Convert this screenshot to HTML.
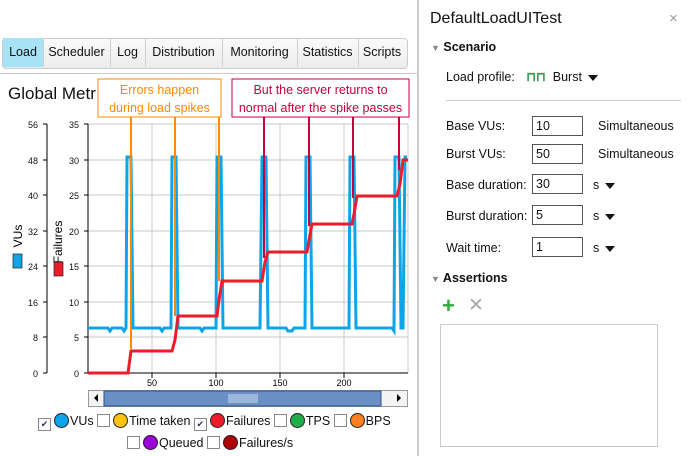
<!DOCTYPE html><html><head><style>
body{margin:0;width:688px;height:456px;background:#fff;font-family:"Liberation Sans",sans-serif;font-size:12px;color:#111;position:relative;overflow:hidden}
.a{position:absolute}
.tab{position:absolute;top:38px;height:29px;line-height:29px;text-align:center;border-right:1px solid #d0d0d0;font-size:12.5px}
.inp{position:absolute;left:532px;width:46px;height:18px;border:1px solid #555;line-height:18px;padding-left:3px;font-size:12.5px}
.lbl{position:absolute;left:446px;font-size:12.5px}
.tri{display:inline-block;width:0;height:0;border-left:5px solid transparent;border-right:5px solid transparent;border-top:6px solid #111;margin-left:6px;vertical-align:middle}
.cb{display:inline-block;width:11px;height:11px;border:1px solid #888;vertical-align:-2px;font-size:9px;line-height:11px;text-align:center;color:#335}
.dot{display:inline-block;width:13px;height:13px;border-radius:50%;border:1px solid #222;vertical-align:-3px;margin-left:3px;margin-right:1px}
</style></head><body>
<div class="a" style="left:2px;top:38px;width:404px;height:29px;border:1px solid #ccc;border-radius:4px;background:linear-gradient(#fafafa,#ececec)"></div>
<div class="tab" style="left:3px;width:40px;background:#a7e2f7">Load</div>
<div class="tab" style="left:43px;width:67px">Scheduler</div>
<div class="tab" style="left:110px;width:35px">Log</div>
<div class="tab" style="left:145px;width:77px">Distribution</div>
<div class="tab" style="left:222px;width:75px">Monitoring</div>
<div class="tab" style="left:297px;width:61px">Statistics</div>
<div class="tab" style="left:358px;width:48px;border-right:none">Scripts</div>
<div class="a" style="left:0;top:73px;width:417px;height:1px;background:#ccc"></div>
<div class="a" style="left:417px;top:0;width:2px;height:456px;background:#ccc"></div>
<div class="a" style="left:8px;top:84px;font-size:17px">Global Metr</div>
<svg class="a" style="left:0;top:0" width="417" height="456">
<g font-size="9" text-anchor="end" fill="#111">
<line x1="47" y1="124" x2="47" y2="373" stroke="#000"/>
<g stroke="#000"><line x1="43" y1="124" x2="47" y2="124"/><line x1="43" y1="160" x2="47" y2="160"/><line x1="43" y1="195" x2="47" y2="195"/><line x1="43" y1="231" x2="47" y2="231"/><line x1="43" y1="266" x2="47" y2="266"/><line x1="43" y1="302" x2="47" y2="302"/><line x1="43" y1="337" x2="47" y2="337"/><line x1="43" y1="373" x2="47" y2="373"/>
<line x1="84" y1="124" x2="88" y2="124"/><line x1="84" y1="160" x2="88" y2="160"/><line x1="84" y1="195" x2="88" y2="195"/><line x1="84" y1="231" x2="88" y2="231"/><line x1="84" y1="266" x2="88" y2="266"/><line x1="84" y1="302" x2="88" y2="302"/><line x1="84" y1="337" x2="88" y2="337"/><line x1="84" y1="373" x2="88" y2="373"/></g>
<text x="38" y="128">56</text><text x="38" y="164">48</text><text x="38" y="199">40</text><text x="38" y="235">32</text><text x="38" y="270">24</text><text x="38" y="306">16</text><text x="38" y="341">8</text><text x="38" y="377">0</text>
<text x="79" y="128">35</text><text x="79" y="164">30</text><text x="79" y="199">25</text><text x="79" y="235">20</text><text x="79" y="270">15</text><text x="79" y="306">10</text><text x="79" y="341">5</text><text x="79" y="377">0</text>
</g>
<text transform="translate(22,236) rotate(-90)" font-size="12" text-anchor="middle">VUs</text>
<rect x="13" y="254" width="9" height="14" fill="#0ea5e8" stroke="#222" stroke-width="0.7"/>
<text transform="translate(62,242) rotate(-90)" font-size="12" text-anchor="middle">Failures</text>
<rect x="54" y="262" width="9" height="14" fill="#ee1c2a" stroke="#222" stroke-width="0.7"/>
<g stroke="#c8c8c8" stroke-width="1">
<line x1="88" y1="160" x2="408" y2="160"/><line x1="88" y1="195" x2="408" y2="195"/><line x1="88" y1="231" x2="408" y2="231"/><line x1="88" y1="266" x2="408" y2="266"/><line x1="88" y1="302" x2="408" y2="302"/><line x1="88" y1="337" x2="408" y2="337"/><line x1="88" y1="124" x2="408" y2="124"/>
<line x1="152" y1="124" x2="152" y2="373"/><line x1="216" y1="124" x2="216" y2="373"/><line x1="280" y1="124" x2="280" y2="373"/><line x1="344" y1="124" x2="344" y2="373"/><line x1="408" y1="124" x2="408" y2="373"/>
</g>
<line x1="88" y1="124" x2="88" y2="373" stroke="#000"/>
<line x1="88" y1="373" x2="408" y2="373" stroke="#000"/>
<g stroke="#000"><line x1="152" y1="373" x2="152" y2="378"/><line x1="216" y1="373" x2="216" y2="378"/><line x1="280" y1="373" x2="280" y2="378"/><line x1="344" y1="373" x2="344" y2="378"/></g>
<g font-size="9" text-anchor="middle"><text x="152" y="386">50</text><text x="216" y="386">100</text><text x="280" y="386">150</text><text x="344" y="386">200</text></g>
<polyline fill="none" stroke="#0ea5e8" stroke-width="3" points="88,328 108,328 110,331 112,328 122,328 124,331 126,328 127,157 131,157 133,328 160,328 162,331 164,328 171,328 172,157 176,157 178,328 200,328 202,331 204,328 216,328 217,157 221,157 223,328 260,328 262,157 266,157 268,328 286,328 288,331 292,331 294,328 305,328 306,157 310,157 312,328 349,328 350,157 354,157 356,328 392,328 394,331 395,157 399,157 401,328 403,328 405,157 407,157"/>
<polyline fill="none" stroke="#ee1c2a" stroke-width="3" points="88,373 128,373 131,351 172,351 175,340 178,316 217,316 219,300 222,281 262,281 265,262 268,252 307,252 309,240 312,224 352,224 354,214 357,196 397,196 400,184 403,160 408,160"/>
<g stroke="#ff8a00" stroke-width="2"><line x1="131" y1="117" x2="131" y2="349"/><line x1="175" y1="117" x2="175" y2="316"/><line x1="219" y1="117" x2="219" y2="281"/></g>
<g stroke="#c8003c" stroke-width="2"><line x1="264" y1="117" x2="264" y2="258"/><line x1="309" y1="117" x2="309" y2="226"/><line x1="353" y1="117" x2="353" y2="198"/><line x1="399" y1="117" x2="399" y2="170"/></g>
<rect x="98" y="79" width="123" height="38" fill="#fff" stroke="#ff8a00"/>
<text x="159.5" y="94" fill="#ff8a00" font-size="12.5" text-anchor="middle">Errors happen</text>
<text x="159.5" y="112" fill="#ff8a00" font-size="12.5" text-anchor="middle">during load spikes</text>
<rect x="232" y="79" width="177" height="38" fill="#fff" stroke="#c8003c"/>
<text x="320.5" y="94" fill="#c8003c" font-size="12.5" text-anchor="middle">But the server returns to</text>
<text x="320.5" y="112" fill="#c8003c" font-size="12.5" text-anchor="middle">normal after the spike passes</text>
<rect x="88.5" y="390.5" width="319" height="16" fill="#f4f4f4" stroke="#999"/>
<rect x="104" y="391" width="277" height="15" fill="#6a8fc4" stroke="#2e4f87"/>
<rect x="228" y="394" width="30" height="9" fill="#9cb6dd"/>
<polygon points="98,394 94,398 98,402" fill="#000"/>
<polygon points="397,394 401,398 397,402" fill="#000"/>
</svg>
<div class="a" style="left:38px;top:413px;font-size:12.5px;line-height:16px;white-space:nowrap">
<span class="cb">✔</span><span class="dot" style="background:#0ea5e8"></span>VUs <span class="cb"></span><span class="dot" style="background:#ffc20e"></span>Time taken <span class="cb">✔</span><span class="dot" style="background:#ee1c2a"></span>Failures <span class="cb"></span><span class="dot" style="background:#1fae4a"></span>TPS <span class="cb"></span><span class="dot" style="background:#ff8020"></span>BPS
</div>
<div class="a" style="left:127px;top:435px;font-size:12.5px;line-height:16px;white-space:nowrap">
<span class="cb"></span><span class="dot" style="background:#9b00d8"></span>Queued <span class="cb"></span><span class="dot" style="background:#b00000"></span>Failures/s
</div>
<div class="a" style="left:430px;top:10px;font-size:16px">DefaultLoadUITest</div>
<div class="a" style="left:669px;top:10px;font-size:15px;color:#999">×</div>
<div class="a" style="left:431px;top:40px;font-size:12.5px;font-weight:bold"><span style="color:#888;font-size:9px">▼</span> Scenario</div>
<div class="lbl" style="top:69px">Load profile: <span style="color:#2a9a4a;margin-left:8px;font-weight:bold">⊓⊓</span> &nbsp;Burst<span class="tri"></span></div>
<div class="a" style="left:446px;top:100px;width:235px;height:1px;background:#ccc"></div>
<div class="lbl" style="top:119px">Base VUs:</div><div class="inp" style="top:116px">10</div><div class="a" style="left:598px;top:119px;font-size:12.5px">Simultaneous</div>
<div class="lbl" style="top:147px">Burst VUs:</div><div class="inp" style="top:144px">50</div><div class="a" style="left:598px;top:147px;font-size:12.5px">Simultaneous</div>
<div class="lbl" style="top:178px">Base duration:</div><div class="inp" style="top:174px">30</div><div class="a" style="left:593px;top:178px;font-size:12.5px">s<span class="tri"></span></div>
<div class="lbl" style="top:209px">Burst duration:</div><div class="inp" style="top:205px">5</div><div class="a" style="left:593px;top:209px;font-size:12.5px">s<span class="tri"></span></div>
<div class="lbl" style="top:241px">Wait time:</div><div class="inp" style="top:237px">1</div><div class="a" style="left:593px;top:241px;font-size:12.5px">s<span class="tri"></span></div>
<div class="a" style="left:431px;top:271px;font-size:12.5px;font-weight:bold"><span style="color:#888;font-size:9px">▼</span> Assertions</div>
<div class="a" style="left:442px;top:293px;font-size:22px;font-weight:bold;color:#2fae3c">+</div>
<div class="a" style="left:468px;top:294px;font-size:19px;color:#aaa">✕</div>
<div class="a" style="left:440px;top:324px;width:216px;height:121px;border:1px solid #ccc"></div>
</body></html>
